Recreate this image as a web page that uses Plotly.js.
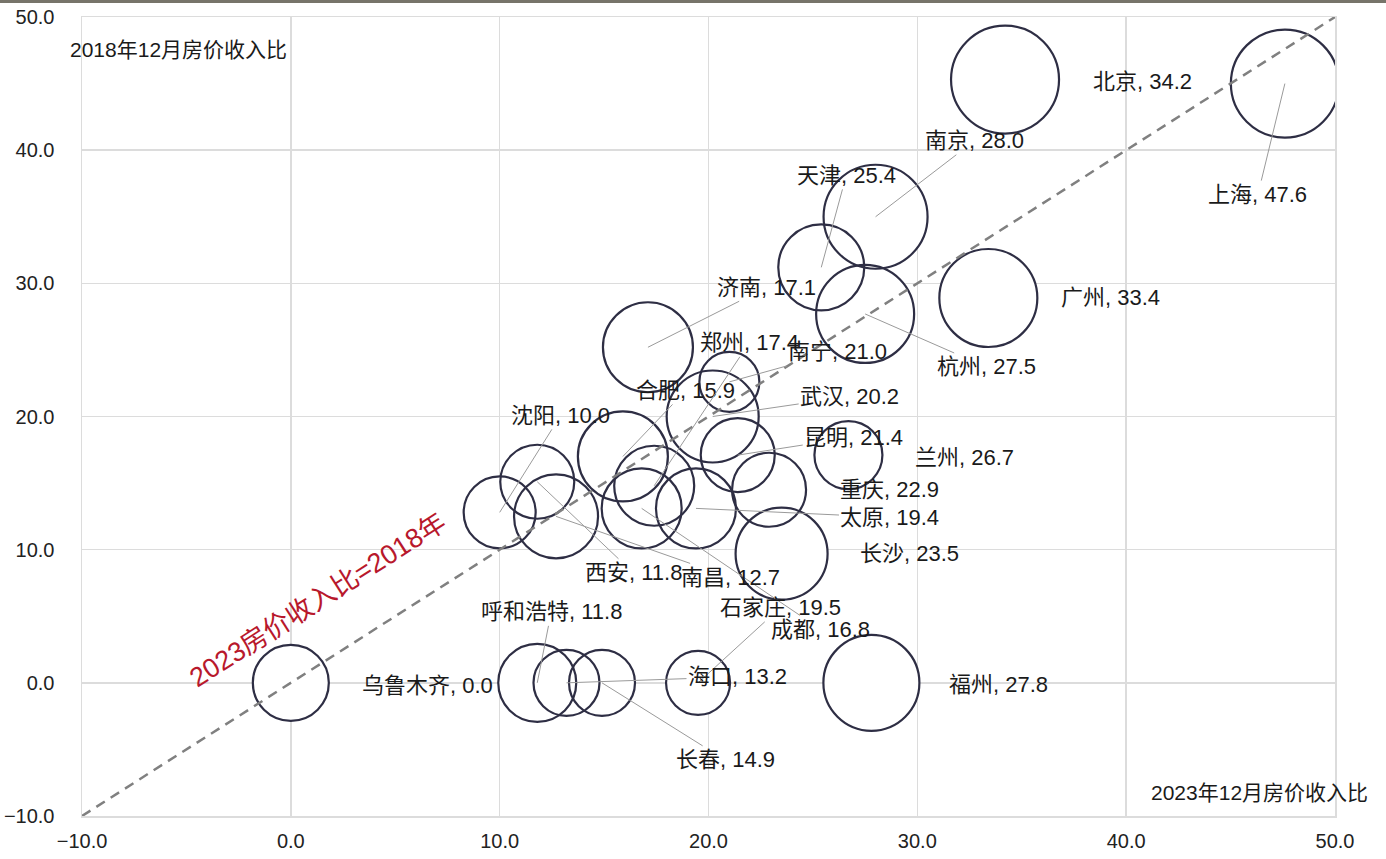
<!DOCTYPE html>
<html>
<head>
<meta charset="utf-8">
<script src="https://cdn.plot.ly/plotly-3.0.1.min.js"></script>
<style>
html,body{margin:0;padding:0;background:#fff;}
#wrap{width:1386px;height:859px;border-top:3px solid #77746a;box-sizing:border-box;}
#chart{width:1386px;height:856px;}
</style>
</head>
<body>
<div id="wrap"><div id="chart"></div></div>
<script>
// ---- data ----
const cities = ['北京','上海','南京','天津','杭州','广州','济南','南宁','武汉','合肥','昆明','兰州','重庆','郑州','成都','太原','长沙','沈阳','西安','南昌','石家庄','呼和浩特','乌鲁木齐','海口','长春','福州'];
const ratio2023 = [34.2,47.6,28.0,25.4,27.5,33.4,17.1,21.0,20.2,15.9,21.4,26.7,22.9,17.4,16.8,19.4,23.5,10.0,11.8,12.7,19.5,11.8,0.0,13.2,14.9,27.8];
const ratio2018 = [45.3,45.0,35.0,31.2,27.7,28.9,25.2,22.6,20.0,17.0,17.1,17.1,14.5,14.8,13.1,13.1,9.7,12.8,15.1,12.5,0,0,0,0,0,0];
const bubbleSize = [54,54,52,43,49,49,45,30,46,45,37,34,37,40,40,40,46,36,37,42,32,39,38,33,33,48];
const tickVals = [-10,0,10,20,30,40,50];
const xTitle = '2023年12月房价收入比';
const yTitle = '2018年12月房价收入比';
const refLineText = '2023房价收入比=2018年';

// ---- label placement (pixel offsets from bubble centre, leader flag) ----
const labelOffset = {
  '北京':[137,2,0],'上海':[-27,111,1],'南京':[99,-76,1],'天津':[25,-92,1],'杭州':[121,53,1],
  '广州':[122,0,0],'济南':[119,-60,1],'南宁':[108,-30,1],'武汉':[137,-20,1],'合肥':[63,-66,1],
  '昆明':[116,-18,1],'兰州':[116,2,0],'重庆':[120,0,0],'郑州':[95,-143,1],'成都':[179,121,1],
  '太原':[194,9,1],'长沙':[128,0,0],'沈阳':[61,-97,1],'西安':[96,91,1],'南昌':[174,61,1],
  '石家庄':[82,-75,1],'呼和浩特':[14,-71,1],'乌鲁木齐':[137,3,0],'海口':[171,-6,1],'长春':[123,77,1],'福州':[127,2,0]
};

const FONT = 'Liberation Sans, Arial, Noto Sans CJK SC, sans-serif';
const diam = bubbleSize.map(r => 2*r);

const traces = [
  { // white fill hides grid
    type:'scatter', mode:'markers', x:ratio2023, y:ratio2018, hoverinfo:'skip',
    marker:{size:diam, sizemode:'diameter', color:'#ffffff', opacity:1, line:{width:0}}, cliponaxis:true
  },
  { // outlines
    type:'scatter', mode:'markers', x:ratio2023, y:ratio2018, text:cities,
    marker:{size:diam, sizemode:'diameter', color:'rgba(255,255,255,0)', opacity:1, line:{width:2.2, color:'#2e2e44'}}, cliponaxis:true
  },
  { // y = x reference line
    type:'scatter', mode:'lines', x:[tickVals[0], tickVals[tickVals.length-1]], y:[tickVals[0], tickVals[tickVals.length-1]],
    line:{color:'#808080', width:2.5, dash:'10px,7px'}, hoverinfo:'skip'
  }
];

const annotations = cities.map((c,i) => {
  const o = labelOffset[c];
  return {
    x: ratio2023[i], y: ratio2018[i], xref:'x', yref:'y',
    text: c + ', ' + ratio2023[i].toFixed(1),
    showarrow:true, arrowhead:0, arrowwidth:1, standoff:0,
    arrowcolor: o[2] ? '#9a9a9a' : 'rgba(0,0,0,0)',
    ax:o[0], ay:o[1],
    font:{family:FONT, size:22, color:'#1a1a1a'}
  };
});
annotations.push({
  xref:'paper', yref:'paper', x:-0.0112, y:0.9587, xanchor:'left', yanchor:'middle',
  text:yTitle, showarrow:false, font:{family:FONT, size:21, color:'#1a1a1a'}
});
annotations.push({
  xref:'paper', yref:'paper', x:1.028, y:0.0288, xanchor:'right', yanchor:'middle',
  text:xTitle, showarrow:false, font:{family:FONT, size:21, color:'#1a1a1a'}
});
annotations.push({
  xref:'x', yref:'y', x:1.3, y:6.2, textangle:-32.6,
  text:refLineText, showarrow:false, font:{family:FONT, size:27, color:'#b8182c'}
});

const axisCommon = {
  range:[tickVals[0], tickVals[tickVals.length-1]], tickvals:tickVals, tickformat:'.1f',
  showgrid:true, gridcolor:'#dcdcdc', gridwidth:1.5, zeroline:false,
  showline:true, linecolor:'#dcdcdc', linewidth:1.5, mirror:true,
  ticks:'', tickfont:{family:FONT, size:20, color:'#222'}, fixedrange:true
};

const layout = {
  width:1386, height:856,
  margin:{l:82, r:51, t:14, b:43},
  paper_bgcolor:'#ffffff', plot_bgcolor:'#ffffff',
  showlegend:false,
  xaxis:Object.assign({}, axisCommon, {ticklabelstandoff:6}),
  yaxis:Object.assign({}, axisCommon, {ticklabelstandoff:22}),
  annotations:annotations
};

Plotly.newPlot('chart', traces, layout, {displayModeBar:false, staticPlot:true});
</script>
</body>
</html>
